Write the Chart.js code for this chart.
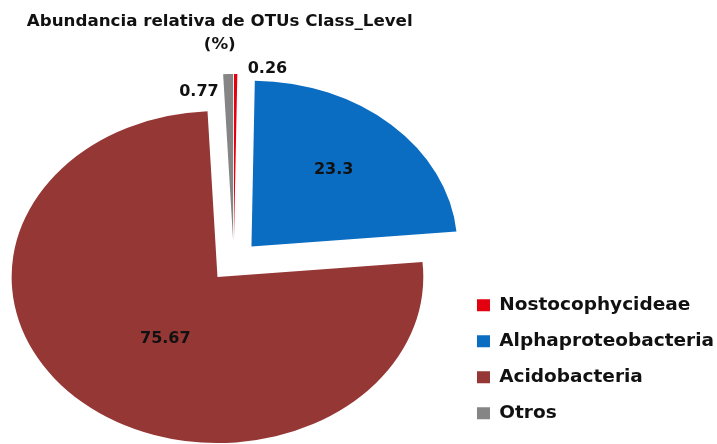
<!DOCTYPE html>
<html>
<head>
<meta charset="utf-8">
<script src="https://cdn.jsdelivr.net/npm/chart.js@4.4.1/dist/chart.umd.min.js"></script>
<style>
  html, body { margin: 0; padding: 0; background: #fff; }
  #marco { width: 717px; height: 444px; }
</style>
</head>
<body>
<div id="marco"><canvas id="grafica"></canvas></div>
<script>
const categorias = ['Nostocophycideae', 'Alphaproteobacteria', 'Acidobacteria', 'Otros'];
const valores = [0.26, 23.3, 75.67, 0.77];
const etiquetas = ['0.26', '23.3', '75.67', '0.77'];
const colores = ['#E3000F', '#0A6DC2', '#953735', '#858585'];
const titulo = ['Abundancia relativa de OTUs Class_Level', '(%)'];

const estiramiento = 1.24; // el pastel original sale estirado en horizontal
const desplazamientoX = 4;
const separacion = [22, 21, 20, 22]; // cuánto se separa cada sector del centro

// dónde va cada etiqueta: fracción del radio, alineación y ajuste fino
const posEtiquetas = [
  { r: 1.03, align: 'left', dx: 12, dy: 0 },
  { r: 0.63, align: 'center', dx: -6, dy: 0 },
  { r: 0.46, align: 'center', dx: 10, dy: 4 },
  { r: 0.89, align: 'right', dx: -10, dy: 0 }
];

const fuente = 'DejaVu Sans';

const pluginEstirar = {
  id: 'estirar',
  beforeDatasetsDraw(chart) {
    const meta = chart.getDatasetMeta(0);
    const centro = meta.data[0].x;
    // separar los sectores (explosión) moviendo su centro
    meta.data.forEach((arco, i) => {
      arco._xy = [arco.x, arco.y];
      const medio = (arco.startAngle + arco.endAngle) / 2;
      arco.x += Math.cos(medio) * separacion[i];
      arco.y += Math.sin(medio) * separacion[i];
    });
    const ctx = chart.ctx;
    ctx.save();
    ctx.translate(centro + desplazamientoX, 0);
    ctx.scale(estiramiento, 1);
    ctx.translate(-centro, 0);
  },
  afterDatasetsDraw(chart) {
    const ctx = chart.ctx;
    ctx.restore();
    const meta = chart.getDatasetMeta(0);
    meta.data.forEach(arco => { arco.x = arco._xy[0]; arco.y = arco._xy[1]; });

    // etiquetas de valores
    ctx.save();
    ctx.font = `bold 16px "${fuente}"`;
    ctx.fillStyle = '#111';
    ctx.textBaseline = 'middle';
    meta.data.forEach((arco, i) => {
      const { x, y, startAngle, endAngle, outerRadius } = arco;
      const medio = (startAngle + endAngle) / 2;
      const p = posEtiquetas[i];
      const dist = p.r * outerRadius + separacion[i];
      const px = x + Math.cos(medio) * dist;
      const py = y + Math.sin(medio) * dist;
      ctx.textAlign = p.align;
      ctx.fillText(etiquetas[i], x + desplazamientoX + estiramiento * (px - x) + p.dx, py + p.dy);
    });

    // título, centrado algo a la izquierda del pastel
    const area = chart.chartArea;
    const xTitulo = (area.left + area.right) / 2 - 10;
    ctx.font = `bold 16.7px "${fuente}"`;
    ctx.textAlign = 'center';
    titulo.forEach((linea, i) => {
      ctx.fillText(linea, xTitulo, 22 + i * 23);
    });
    ctx.restore();
  }
};

const ctx = document.getElementById('grafica').getContext('2d');
const grafica = new Chart(ctx, {
  type: 'pie',
  data: {
    labels: categorias,
    datasets: [{
      data: valores,
      backgroundColor: colores,
      borderWidth: 0,
      radius: 166
    }]
  },
  options: {
    responsive: true,
    maintainAspectRatio: false,
    animation: false,
    layout: { padding: { left: 0, right: -7, top: 84, bottom: 4 } },
    plugins: {
      title: { display: false },
      legend: {
        position: 'right',
        align: 'end',
        labels: {
          boxWidth: 13,
          boxHeight: 12,
          padding: 17.5,
          color: '#111',
          font: { family: fuente, weight: 'bold', size: 18.5 }
        }
      },
      tooltip: { enabled: false }
    }
  },
  plugins: [pluginEstirar]
});
</script>
</body>
</html>
